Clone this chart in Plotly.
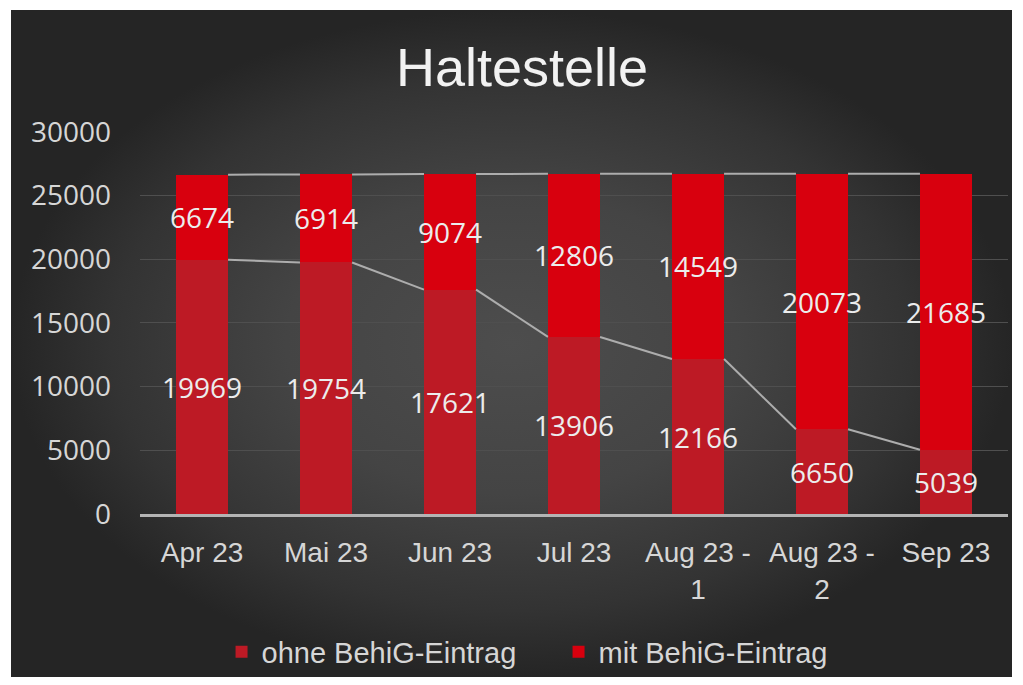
import plotly.graph_objects as go

# chart data
months = ["Apr 23", "Mai 23", "Jun 23", "Jul 23", "Aug 23 -<br>1", "Aug 23 -<br>2", "Sep 23"]
ohne_behig = [19969, 19754, 17621, 13906, 12166, 6650, 5039]
mit_behig = [6674, 6914, 9074, 12806, 14549, 20073, 21685]
y_ticks = [0, 5000, 10000, 15000, 20000, 25000, 30000]

bar_w = 0.42
xs = list(range(len(months)))
totals = [a + b for a, b in zip(ohne_behig, mit_behig)]


def series_line(vals):
    # excel style series lines: right edge of one bar to left edge of the next
    lx, ly = [], []
    for i in range(len(vals) - 1):
        lx += [i + bar_w / 2, i + 1 - bar_w / 2, None]
        ly += [vals[i], vals[i + 1], None]
    return lx, ly


fig = go.Figure()

# dark radial background on its own full-size axes
fig.add_trace(go.Scatter(x=[0, 1, 1, 0, 0], y=[0, 0, 1, 1, 0], mode="lines", fill="toself",
                         line=dict(width=0),
                         fillgradient=dict(type="radial",
                                           colorscale=[[0, "#4d4d4d"], [0.45, "#444444"],
                                                       [0.8, "#333333"], [1, "#252525"]]),
                         xaxis="x", yaxis="y", showlegend=False, hoverinfo="skip"))

label_font = dict(family="Open Sans", size=28, color="#ececec")

fig.add_trace(go.Bar(x=xs, y=ohne_behig, name="ohne BehiG-Eintrag", width=bar_w,
                     marker=dict(color="#bd1a25", line=dict(width=0)),
                     text=[str(v) for v in ohne_behig], textposition="inside",
                     insidetextanchor="middle", constraintext="none", textangle=0,
                     textfont=label_font, xaxis="x2", yaxis="y2", hoverinfo="skip"))
fig.add_trace(go.Bar(x=xs, y=mit_behig, name="mit BehiG-Eintrag", width=bar_w,
                     marker=dict(color="#d8000e", line=dict(width=0)),
                     text=[str(v) for v in mit_behig], textposition="inside",
                     insidetextanchor="middle", constraintext="none", textangle=0,
                     textfont=label_font, xaxis="x2", yaxis="y2", hoverinfo="skip"))

for vals in (ohne_behig, totals):
    lx, ly = series_line(vals)
    fig.add_trace(go.Scatter(x=lx, y=ly, mode="lines", line=dict(color="#adadad", width=2),
                             xaxis="x2", yaxis="y2", showlegend=False, hoverinfo="skip"))

# page body has an 8px margin, so the figure is sized to fit inside it
fig.update_layout(
    width=1007, height=669,
    margin=dict(l=3, r=3, t=2, b=0, autoexpand=False),
    paper_bgcolor="white",
    plot_bgcolor="rgba(0,0,0,0)",
    barmode="stack",
    title=dict(text="Haltestelle", x=0.5104, xanchor="center", y=0.9118, yanchor="middle",
               font=dict(family="Liberation Sans", size=54, color="#f2f2f2")),
    xaxis=dict(domain=[0, 1], range=[0, 1], visible=False, fixedrange=True),
    yaxis=dict(domain=[0, 1], range=[0, 1], visible=False, fixedrange=True),
    xaxis2=dict(domain=[0.1289, 0.996], range=[-0.5, len(months) - 0.5], anchor="y2",
                tickvals=xs, ticktext=months, showgrid=False, zeroline=False,
                showline=True, linecolor="#b4b4b4", linewidth=2.5, ticks="",
                ticklabelstandoff=12, automargin=False,
                tickfont=dict(family="Liberation Sans", size=28, color="#d6d6d6")),
    yaxis2=dict(domain=[0.2444, 0.8171], range=[0, 30000], anchor="x2",
                tickvals=y_ticks, ticktext=[str(v) for v in y_ticks],
                showgrid=True, gridcolor="#4f4f4f", gridwidth=1, automargin=False,
                zeroline=False, showline=False, ticks="", ticklabelstandoff=28,
                tickfont=dict(family="Open Sans", size=28, color="#d6d6d6")),
    legend=dict(orientation="h", x=0.547, xanchor="center",
                y=0.0375, yanchor="middle", bgcolor="rgba(0,0,0,0)", traceorder="normal",
                font=dict(family="Liberation Sans", size=29, color="#d6d6d6"),
                itemwidth=30, entrywidth=292, tracegroupgap=0),
    showlegend=True,
)

fig.write_html("out.html")
